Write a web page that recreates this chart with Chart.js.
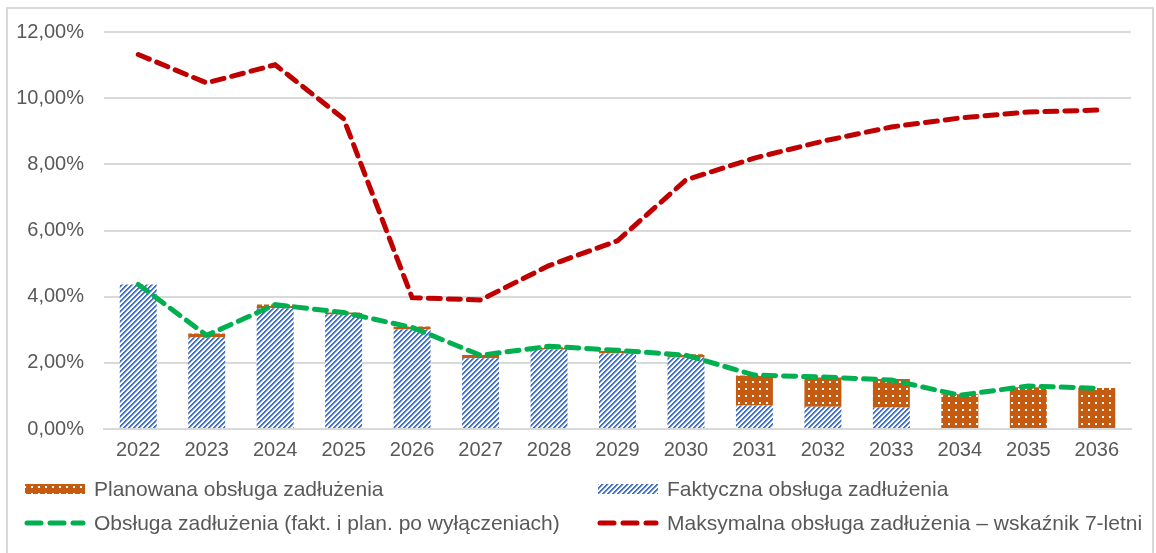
<!DOCTYPE html>
<html lang="pl">
<head>
  <meta charset="UTF-8" />
  <title>Obsługa zadłużenia</title>
  <script src="https://cdn.jsdelivr.net/npm/chart.js"></script>
  <style>
    html, body { margin: 0; padding: 0; background: #ffffff; }
    .wrap { position: relative; width: 1156px; height: 553px; overflow: hidden; }
    .frame {
      position: absolute; left: 6px; top: 7px; width: 1148px; height: 600px;
      border: 2px solid #d9d9d9; box-sizing: border-box; pointer-events: none;
    }
    canvas { position: absolute; left: 0; top: 0; }
  </style>
</head>
<body>
<div class="wrap">
  <canvas id="chart" width="1156" height="553"></canvas>
  <div class="frame"></div>
</div>

<script>
  // dane (w %)
  const years = ['2022', '2023', '2024', '2025', '2026', '2027', '2028', '2029',
                 '2030', '2031', '2032', '2033', '2034', '2035', '2036'];
  const faktyczna = [4.37, 2.77, 3.65, 3.46, 3.01, 2.14, 2.40, 2.28, 2.16, 0.71, 0.67, 0.65, 0, 0, 0];
  const planowana = [0, 0.12, 0.11, 0.06, 0.09, 0.10, 0.07, 0.08, 0.10, 0.91, 0.89, 0.86, 1.05, 1.26, 1.24];
  const poWylaczeniach = [4.37, 2.83, 3.76, 3.52, 3.07, 2.23, 2.50, 2.38, 2.23, 1.63, 1.57, 1.48, 1.02, 1.30, 1.23];
  const maksymalna = [11.32, 10.46, 11.01, 9.38, 3.97, 3.90, 4.94, 5.69, 7.53, 8.19, 8.70, 9.13, 9.40, 9.58, 9.64];
  const yTicks = [0, 2, 4, 6, 8, 10, 12];

  const TEXT = '#595959';
  const GRID = '#d9d9d9';
  const BLUE = '#4472C4';
  const ORANGE = '#C55A11';
  const GREEN = '#00B050';
  const RED = '#C00000';
  const FONT = "'Liberation Sans', Arial, sans-serif";

  // wzór: ukośne paski
  function hatchPattern() {
    const n = 5;
    const c = document.createElement('canvas');
    c.width = n; c.height = n;
    const g = c.getContext('2d');
    g.fillStyle = '#ffffff';
    g.fillRect(0, 0, n, n);
    for (let x = 0; x < n; x++) {
      for (let y = 0; y < n; y++) {
        const k = (x + y) % n;
        if (k === 0 || k === 1) { g.fillStyle = BLUE; g.fillRect(x, y, 1, 1); }
        else if (k === 2) { g.fillStyle = '#a9bde6'; g.fillRect(x, y, 1, 1); }
      }
    }
    return g.createPattern(c, 'repeat');
  }

  // wzór: kropki na pomarańczowym
  function dotPattern() {
    const c = document.createElement('canvas');
    c.width = 7; c.height = 7;
    const g = c.getContext('2d');
    g.fillStyle = ORANGE;
    g.fillRect(0, 0, 7, 7);
    g.fillStyle = '#ffffff';
    g.fillRect(3, 3, 2, 2);
    return g.createPattern(c, 'repeat');
  }

  const hatch = hatchPattern();
  const dots = dotPattern();

  // legenda w dwóch kolumnach
  const legendPlugin = {
    id: 'twoColLegend',
    afterDraw(chart) {
      const ctx = chart.ctx;
      const cols = [25, 598];
      const rows = [489, 523];
      const items = [
        { label: 'Planowana obsługa zadłużenia', kind: 'box', fill: dots },
        { label: 'Faktyczna obsługa zadłużenia', kind: 'box', fill: hatch },
        { label: 'Obsługa zadłużenia (fakt. i plan. po wyłączeniach)', kind: 'line', color: GREEN },
        { label: 'Maksymalna obsługa zadłużenia – wskaźnik 7-letni', kind: 'line', color: RED }
      ];
      ctx.save();
      items.forEach((it, i) => {
        const x = cols[i % 2];
        const y = rows[Math.floor(i / 2)];
        if (it.kind === 'box') {
          ctx.fillStyle = it.fill;
          ctx.fillRect(x, y - 5, 60, 10);
        } else {
          ctx.strokeStyle = it.color;
          ctx.lineWidth = 5;
          ctx.lineCap = 'round';
          ctx.setLineDash([14, 9]);
          ctx.beginPath();
          ctx.moveTo(x + 2, y);
          ctx.lineTo(x + 58, y);
          ctx.stroke();
          ctx.setLineDash([]);
        }
        ctx.fillStyle = TEXT;
        ctx.font = '21px ' + FONT;
        ctx.textBaseline = 'middle';
        ctx.fillText(it.label, x + 69, y + 1);
      });
      ctx.restore();
    }
  };

  new Chart(document.getElementById('chart'), {
    data: {
      labels: years,
      datasets: [
        {
          type: 'bar', label: 'Faktyczna obsługa zadłużenia', data: faktyczna,
          backgroundColor: hatch, order: 2, stack: 'b'
        },
        {
          type: 'bar', label: 'Planowana obsługa zadłużenia', data: planowana,
          backgroundColor: dots, order: 2, stack: 'b'
        },
        {
          type: 'line', label: 'Obsługa zadłużenia (fakt. i plan. po wyłączeniach)', data: poWylaczeniach,
          yAxisID: 'yl', borderColor: GREEN, borderWidth: 5, borderDash: [12, 8],
          borderCapStyle: 'round', pointRadius: 0, fill: false, order: 1, tension: 0
        },
        {
          type: 'line', label: 'Maksymalna obsługa zadłużenia – wskaźnik 7-letni', data: maksymalna,
          yAxisID: 'yl', borderColor: RED, borderWidth: 5, borderDash: [12, 8],
          borderCapStyle: 'round', pointRadius: 0, fill: false, order: 0, tension: 0
        }
      ]
    },
    options: {
      responsive: false,
      animation: false,
      layout: { padding: { left: 0, right: 25, top: 30, bottom: 84 } },
      plugins: {
        legend: { display: false },
        tooltip: { enabled: false }
      },
      datasets: { bar: { categoryPercentage: 1, barPercentage: 0.54 } },
      scales: {
        x: {
          stacked: true,
          grid: { display: false, drawTicks: false },
          border: { display: true, color: GRID, width: 2 },
          ticks: { color: TEXT, font: { family: FONT, size: 20 }, padding: 9, maxRotation: 0 },
          afterFit(s) { s.height = 40; }
        },
        y: {
          stacked: true,
          min: 0, max: 12,
          afterBuildTicks(s) { s.ticks = yTicks.map(v => ({ value: v })); },
          grid: { color: GRID, lineWidth: 2, drawTicks: false },
          border: { display: false },
          ticks: {
            color: TEXT, font: { family: FONT, size: 20 }, padding: 20,
            callback: v => v.toFixed(2).replace('.', ',') + '%'
          },
          afterFit(s) { s.width = 104; }
        },
        yl: {
          display: false, min: 0, max: 12, stacked: false
        }
      }
    },
    plugins: [legendPlugin]
  });
</script>
</body>
</html>
